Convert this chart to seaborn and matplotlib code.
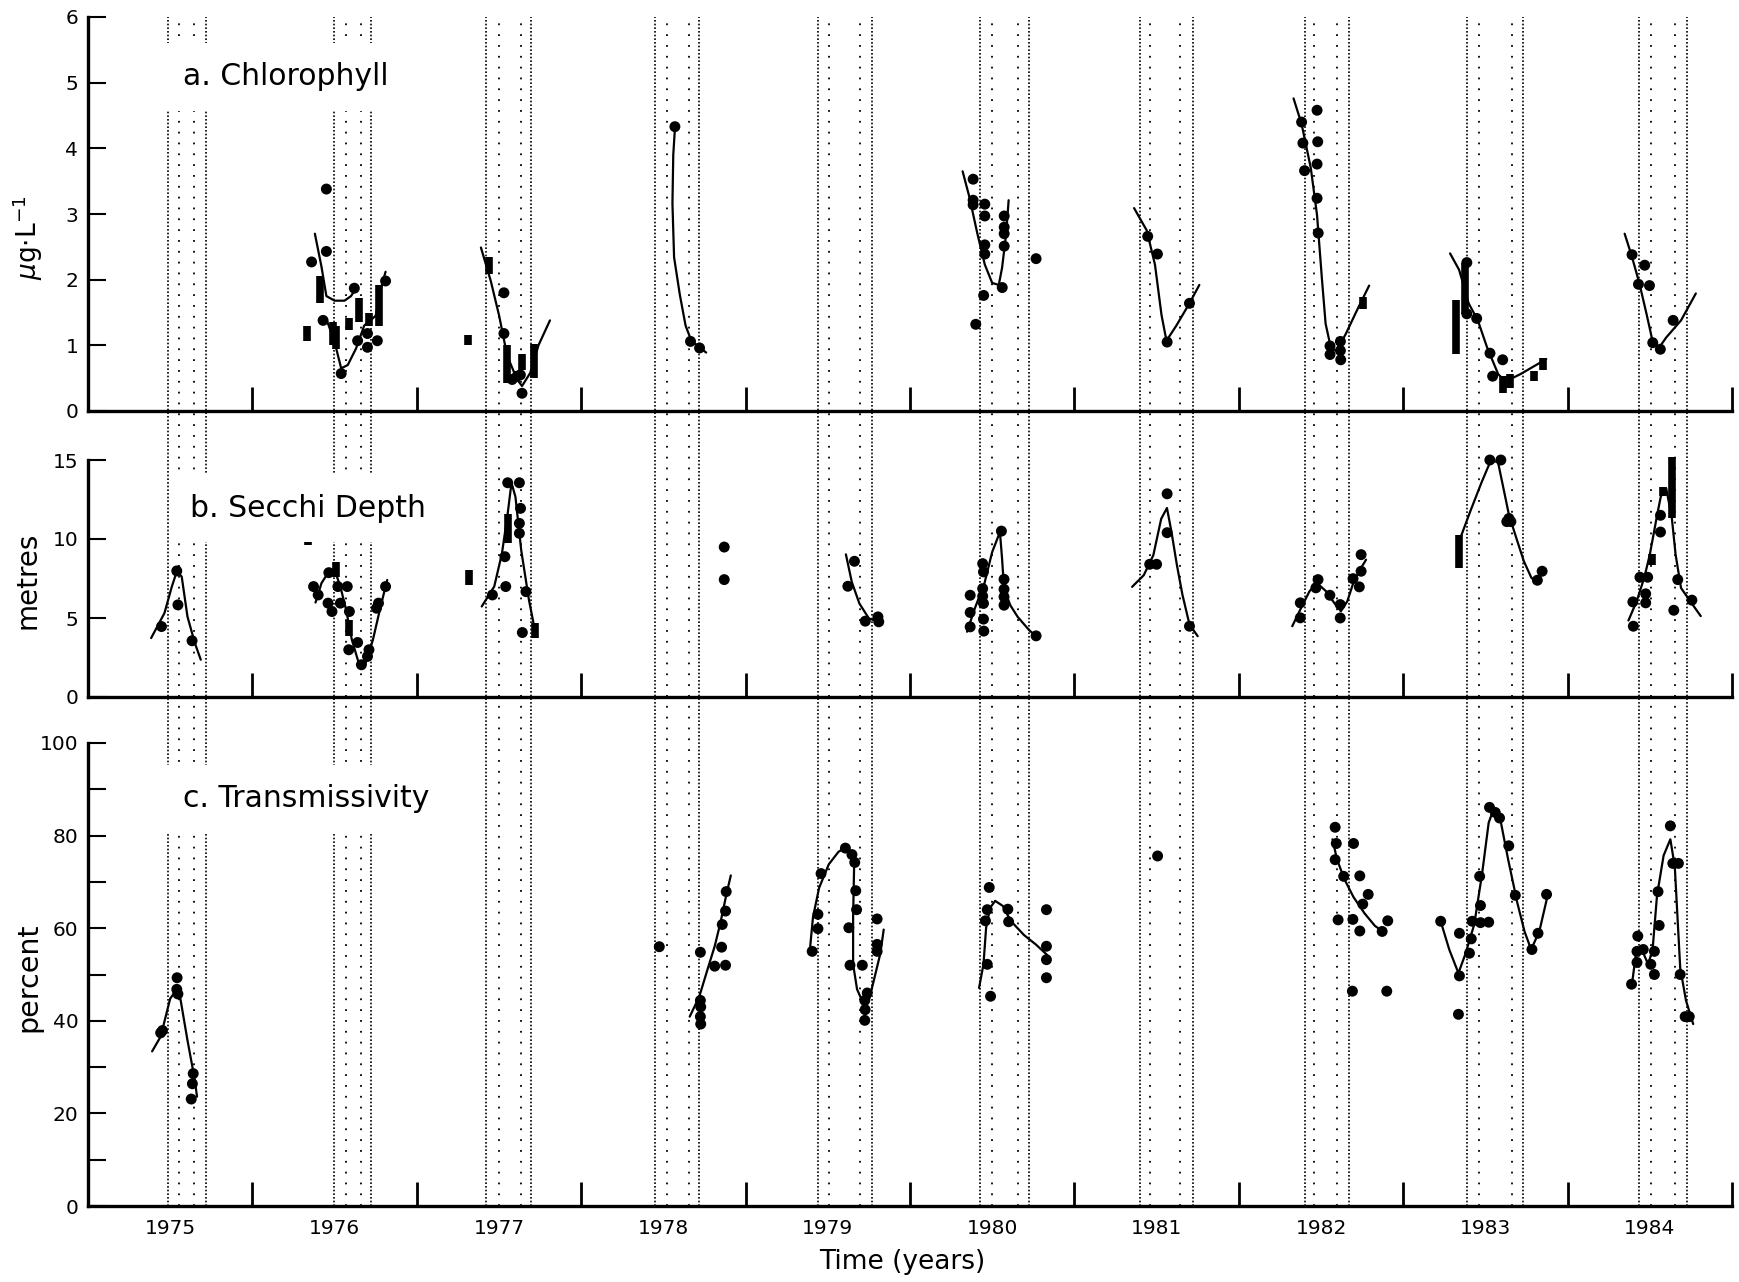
import numpy as np
import pandas as pd
import matplotlib
matplotlib.use("Agg")
import matplotlib.pyplot as plt
import seaborn as sns

sns.set_theme(style="white")
plt.rcParams['font.family'] = ['DejaVu Sans']
plt.rcParams['mathtext.fontset'] = 'dejavusans'
plt.rcParams['text.color'] = 'black'
plt.rcParams['axes.labelcolor'] = 'black'
plt.rcParams['xtick.color'] = 'black'
plt.rcParams['ytick.color'] = 'black'

# ---------------- data ----------------
year_labels = ["1975", "1976", "1977", "1978", "1979", "1980", "1981", "1982", "1983", "1984"]

# period boundaries (dotted verticals)
outer_start = [1975.487, 1976.494, 1977.420, 1978.450, 1979.441, 1980.425, 1981.400, 1982.404, 1983.389, 1984.437]
inner_start = [1975.553, 1976.569, 1977.499, 1978.520, 1979.507, 1980.498, 1981.460, 1982.456, 1983.461, 1984.508]
inner_end = [1975.645, 1976.663, 1977.635, 1978.653, 1979.696, 1980.656, 1981.645, 1982.596, 1983.664, 1984.656]
outer_end = [1975.720, 1976.721, 1977.693, 1978.717, 1979.771, 1980.726, 1981.719, 1982.668, 1983.727, 1984.728]

# a. Chlorophyll
chl_x = [1976.36, 1976.45, 1976.45, 1976.43, 1976.54, 1976.62, 1976.64, 1976.70, 1976.70, 1976.76, 1976.81,
         1977.53, 1977.53, 1977.61, 1977.64, 1977.58, 1977.63,
         1978.57, 1978.665, 1978.72,
         1980.384, 1980.384, 1980.384, 1980.455, 1980.455, 1980.573, 1980.573, 1980.573, 1980.455, 1980.455,
         1980.573, 1980.561, 1980.448, 1980.40, 1980.767,
         1981.446, 1981.505, 1981.564, 1981.70,
         1982.382, 1982.39, 1982.40, 1982.476, 1982.48, 1982.476, 1982.476, 1982.483, 1982.555, 1982.555,
         1982.618, 1982.618, 1982.62,
         1983.387, 1983.387, 1983.447, 1983.528, 1983.544, 1983.605,
         1984.392, 1984.469, 1984.431, 1984.498, 1984.518, 1984.564, 1984.642]
chl_y = [2.27, 3.38, 2.43, 1.38, 0.57, 1.87, 1.07, 0.97, 1.18, 1.07, 1.98,
         1.80, 1.18, 0.53, 0.27, 0.48, 0.55,
         4.33, 1.06, 0.96,
         3.53, 3.21, 3.14, 3.15, 2.97, 2.97, 2.80, 2.70, 2.53, 2.39,
         2.51, 1.88, 1.76, 1.32, 2.32,
         2.66, 2.39, 1.05, 1.64,
         4.40, 4.08, 3.66, 4.58, 4.10, 3.76, 3.24, 2.71, 0.99, 0.86,
         1.06, 0.92, 0.78,
         2.26, 1.48, 1.41, 0.88, 0.53, 0.78,
         2.38, 2.22, 1.93, 1.91, 1.04, 0.94, 1.38]
chl_bar_x = [1976.33, 1976.41, 1976.49, 1976.51, 1976.59, 1976.65, 1976.71, 1976.77,
             1977.31, 1977.44, 1977.55, 1977.64, 1977.71, 1982.753,
             1983.32, 1983.375, 1983.605, 1983.65, 1983.797, 1983.85]
chl_bar_lo = [1.07, 1.64, 1.00, 0.94, 1.23, 1.36, 1.30, 1.30,
              1.00, 2.08, 0.43, 0.63, 0.50, 1.56,
              0.87, 1.48, 0.27, 0.35, 0.45, 0.63]
chl_bar_hi = [1.30, 2.05, 1.36, 1.30, 1.41, 1.72, 1.50, 1.92,
              1.15, 2.34, 1.00, 0.87, 1.02, 1.74,
              1.69, 2.26, 0.53, 0.56, 0.61, 0.81]
chl_curves_x = [
    [1976.38, 1976.42, 1976.45, 1976.50, 1976.56, 1976.60, 1976.63],
    [1976.45, 1976.50, 1976.54, 1976.58, 1976.63, 1976.68, 1976.75, 1976.78, 1976.81],
    [1977.39, 1977.45, 1977.50, 1977.55, 1977.61, 1977.64, 1977.69, 1977.74, 1977.81],
    [1978.57, 1978.56, 1978.555, 1978.565, 1978.60, 1978.635, 1978.67, 1978.76],
    [1980.32, 1980.36, 1980.41, 1980.455, 1980.50, 1980.54, 1980.56, 1980.585, 1980.60],
    [1981.363, 1981.44, 1981.49, 1981.53, 1981.56, 1981.62, 1981.70, 1981.76],
    [1982.333, 1982.382, 1982.438, 1982.476, 1982.506, 1982.528, 1982.562, 1982.596, 1982.652, 1982.72, 1982.793],
    [1983.285, 1983.34, 1983.375, 1983.398, 1983.454, 1983.51, 1983.578, 1983.622, 1983.712, 1983.87],
    [1984.347, 1984.39, 1984.436, 1984.48, 1984.518, 1984.558, 1984.60, 1984.69, 1984.78]]
chl_curves_y = [
    [2.70, 2.20, 1.75, 1.68, 1.68, 1.75, 1.87],
    [1.40, 1.05, 0.65, 0.70, 0.95, 1.30, 1.45, 1.85, 2.12],
    [2.49, 1.98, 1.46, 0.84, 0.48, 0.38, 0.58, 1.00, 1.38],
    [4.30, 3.90, 3.16, 2.34, 1.77, 1.30, 1.07, 0.89],
    [3.65, 3.27, 2.70, 2.23, 1.95, 1.92, 2.18, 2.70, 3.21],
    [3.09, 2.75, 2.23, 1.46, 1.07, 1.30, 1.64, 1.92],
    [4.76, 4.37, 3.70, 2.98, 2.00, 1.33, 0.94, 0.92, 1.18, 1.54, 1.91],
    [2.40, 2.15, 1.85, 1.64, 1.38, 0.97, 0.56, 0.45, 0.56, 0.79],
    [2.70, 2.36, 1.95, 1.48, 1.05, 0.97, 1.12, 1.38, 1.79]]

# b. Secchi depth
sec_x = [1975.447, 1975.54, 1975.547, 1975.633,
         1976.372, 1976.40, 1976.46, 1976.484, 1976.465, 1976.52, 1976.577, 1976.535, 1976.59, 1976.586,
         1976.64, 1976.663, 1976.70, 1976.709, 1976.755, 1976.767, 1976.81,
         1977.46, 1977.536, 1977.541, 1977.553, 1977.624, 1977.631, 1977.624, 1977.624, 1977.664, 1977.642,
         1978.87, 1978.87,
         1979.662, 1979.622, 1979.728, 1979.805, 1979.81,
         1980.366, 1980.366, 1980.366, 1980.442, 1980.447, 1980.442, 1980.442, 1980.447, 1980.447, 1980.449,
         1980.556, 1980.572, 1980.572, 1980.572, 1980.572, 1980.767,
         1981.564, 1981.564, 1981.458, 1981.50, 1981.70,
         1982.374, 1982.374, 1982.482, 1982.469, 1982.554, 1982.617, 1982.617, 1982.695, 1982.744, 1982.744, 1982.733,
         1983.527, 1983.594, 1983.63, 1983.655, 1983.643, 1983.816, 1983.845,
         1984.397, 1984.40, 1984.44, 1984.487, 1984.475, 1984.475, 1984.565, 1984.565, 1984.67, 1984.646, 1984.756]
sec_y = [4.46, 7.98, 5.83, 3.56,
         6.99, 6.46, 5.94, 5.41, 7.87, 6.99, 6.99, 5.94, 5.41, 2.99,
         3.45, 2.04, 2.57, 2.99, 5.62, 5.94, 6.99,
         6.46, 8.88, 6.99, 13.56, 13.56, 11.94, 10.99, 10.36, 6.67, 4.08,
         9.49, 7.43,
         8.59, 7.01, 4.80, 5.07, 4.76,
         6.44, 5.35, 4.44, 8.44, 7.92, 6.86, 6.38, 5.92, 4.93, 4.17,
         10.50, 7.45, 6.82, 6.34, 5.81, 3.87,
         12.86, 10.40, 8.40, 8.40, 4.48,
         5.96, 5.01, 7.43, 6.91, 6.44, 5.85, 5.00, 7.49, 9.01, 7.96, 6.97,
         15.0, 15.0, 11.1, 11.1, 11.3, 7.39, 7.96,
         6.02, 4.48, 7.58, 7.58, 6.53, 5.96, 11.50, 10.44, 7.43, 5.49, 6.13]
sec_bar_x = [1976.337, 1976.51, 1976.585, 1977.318, 1977.553, 1977.718, 1983.34, 1984.513, 1984.58, 1984.634]
sec_bar_lo = [9.60, 7.60, 3.83, 7.10, 9.73, 3.73, 8.17, 8.34, 12.70, 11.33]
sec_bar_hi = [10.50, 8.57, 4.88, 8.04, 11.60, 4.67, 10.27, 9.07, 13.30, 15.22]
sec_curves_x = [
    [1975.384, 1975.465, 1975.51, 1975.54, 1975.57, 1975.605, 1975.65, 1975.686],
    [1976.384, 1976.42, 1976.465, 1976.50, 1976.535, 1976.57, 1976.605, 1976.65, 1976.686, 1976.733, 1976.78, 1976.82],
    [1977.395, 1977.471, 1977.518, 1977.553, 1977.576, 1977.60, 1977.635, 1977.682, 1977.718],
    [1979.61, 1979.646, 1979.692, 1979.75, 1979.81],
    [1980.347, 1980.394, 1980.453, 1980.50, 1980.547, 1980.56, 1980.572, 1980.61, 1980.655, 1980.725, 1980.77],
    [1981.351, 1981.422, 1981.48, 1981.528, 1981.563, 1981.59, 1981.623, 1981.657, 1981.70, 1981.75],
    [1982.325, 1982.379, 1982.43, 1982.475, 1982.531, 1982.58, 1982.621, 1982.66, 1982.70, 1982.744, 1982.774],
    [1983.34, 1983.408, 1983.475, 1983.53, 1983.576, 1983.61, 1983.643, 1983.69, 1983.734, 1983.78, 1983.81, 1983.857],
    [1984.37, 1984.42, 1984.466, 1984.50, 1984.545, 1984.567, 1984.60, 1984.634, 1984.657, 1984.69, 1984.746, 1984.81]]
sec_curves_y = [
    [3.73, 5.31, 6.99, 7.94, 7.62, 5.09, 3.41, 2.36],
    [5.98, 7.20, 7.94, 8.04, 6.99, 5.52, 3.62, 2.04, 2.04, 3.62, 5.73, 7.41],
    [5.73, 6.99, 9.09, 11.62, 13.56, 12.67, 9.30, 6.15, 4.25],
    [9.03, 7.28, 5.92, 4.97, 4.76],
    [4.13, 5.60, 7.20, 9.18, 10.44, 8.76, 6.86, 5.81, 5.07, 4.23, 3.81],
    [6.97, 7.71, 8.97, 11.28, 11.96, 10.48, 8.38, 6.48, 4.59, 3.85],
    [4.48, 5.64, 6.69, 7.22, 6.69, 5.96, 5.43, 6.06, 7.33, 8.17, 8.69],
    [9.85, 11.75, 13.54, 14.90, 14.90, 13.20, 11.54, 10.00, 8.59, 7.54, 7.33, 7.96],
    [4.84, 6.06, 7.54, 9.01, 11.54, 12.69, 13.20, 11.33, 9.01, 6.90, 6.06, 5.12]]

# c. Transmissivity
tr_x = [1975.442, 1975.453, 1975.542, 1975.54, 1975.547, 1975.64, 1975.635, 1975.628,
        1978.475, 1978.725, 1978.725, 1978.727, 1978.725, 1978.727, 1978.812, 1978.878, 1978.854, 1978.858, 1978.878, 1978.882,
        1979.459, 1979.44, 1979.44, 1979.405, 1979.607, 1979.647, 1979.664, 1979.67, 1979.675, 1979.628,
        1979.635, 1979.71, 1979.74, 1979.725, 1979.727, 1979.725, 1979.80, 1979.80, 1979.80,
        1980.482, 1980.47, 1980.459, 1980.47, 1980.49, 1980.595, 1980.60, 1980.83, 1980.83, 1980.83, 1980.83,
        1981.506,
        1982.586, 1982.593, 1982.586, 1982.638, 1982.604, 1982.698, 1982.736, 1982.787, 1982.754, 1982.694,
        1982.736, 1982.872, 1982.906, 1982.691, 1982.90,
        1983.228, 1983.342, 1983.342, 1983.336, 1983.403, 1983.414, 1983.42, 1983.47, 1983.52, 1983.47,
        1983.465, 1983.525, 1983.56, 1983.586, 1983.642, 1983.682, 1983.783, 1983.82, 1983.872,
        1984.389, 1984.427, 1984.422, 1984.422, 1984.46, 1984.506, 1984.528, 1984.528, 1984.55, 1984.557,
        1984.625, 1984.64, 1984.674, 1984.685, 1984.715, 1984.74]
tr_y = [37.4, 37.9, 49.3, 46.8, 45.8, 28.6, 26.4, 23.1,
        56.0, 54.8, 44.4, 43.0, 40.9, 39.3, 51.8, 52.0, 55.9, 60.8, 63.7, 67.9,
        71.8, 63.0, 59.9, 55.0, 77.3, 75.9, 74.2, 68.1, 64.0, 60.1,
        52.0, 52.0, 46.0, 44.4, 42.4, 40.1, 62.0, 56.5, 55.0,
        68.8, 64.0, 61.6, 52.2, 45.3, 64.1, 61.4, 64.0, 56.1, 53.2, 49.3,
        75.6,
        81.8, 78.3, 74.8, 71.2, 61.8, 78.3, 71.3, 67.3, 65.2, 61.9,
        59.4, 59.3, 61.6, 46.4, 46.4,
        61.5, 58.9, 49.7, 41.4, 54.6, 57.7, 61.5, 61.2, 61.3, 64.9,
        71.2, 86.1, 85.0, 83.8, 77.8, 67.1, 55.4, 58.9, 67.3,
        47.9, 58.3, 55.0, 52.6, 55.4, 52.2, 50.0, 55.0, 67.9, 60.6,
        82.1, 74.0, 74.0, 50.0, 40.9, 40.9]
tr_curves_x = [
    [1975.39, 1975.442, 1975.50, 1975.54, 1975.558, 1975.605, 1975.65, 1975.663],
    [1978.66, 1978.718, 1978.765, 1978.812, 1978.847, 1978.882, 1978.91],
    [1979.393, 1979.41, 1979.447, 1979.506, 1979.565, 1979.607, 1979.647, 1979.66, 1979.654, 1979.654,
     1979.678, 1979.718, 1979.753, 1979.788, 1979.82, 1979.84],
    [1980.42, 1980.447, 1980.463, 1980.487, 1980.518, 1980.565, 1980.612, 1980.694, 1980.765, 1980.835],
    [1982.57, 1982.597, 1982.642, 1982.698, 1982.765, 1982.828, 1982.877],
    [1983.228, 1983.28, 1983.336, 1983.38, 1983.432, 1983.48, 1983.52, 1983.548, 1983.593, 1983.638,
     1983.694, 1983.738, 1983.778, 1983.828, 1983.884],
    [1984.393, 1984.416, 1984.45, 1984.49, 1984.517, 1984.544, 1984.584, 1984.625, 1984.652, 1984.685,
     1984.72, 1984.764]]
tr_curves_y = [
    [33.4, 36.6, 44.8, 46.8, 45.6, 35.8, 27.2, 23.6],
    [40.9, 45.2, 50.7, 56.1, 61.2, 67.1, 71.4],
    [56.1, 62.4, 68.7, 73.8, 76.5, 77.4, 76.1, 73.3, 62.4, 52.2,
     46.8, 43.6, 44.8, 49.9, 54.6, 59.7],
    [47.1, 52.2, 60.1, 64.4, 65.9, 64.8, 61.6, 58.5, 56.5, 54.2],
    [79.2, 74.9, 70.6, 66.7, 63.2, 60.5, 59.3],
    [61.5, 55.4, 50.3, 54.6, 60.8, 71.8, 82.8, 85.5, 83.1, 74.9,
     65.5, 59.3, 55.4, 59.3, 67.9],
    [48.3, 54.6, 55.5, 52.2, 55.4, 67.1, 75.7, 79.2, 73.3, 51.4,
     44.4, 39.3]]

# ---------------- figure ----------------
W, H = 1740, 1282
X0, X1 = 88, 1732
fig = plt.figure(figsize=(W / 100, H / 100), dpi=100)


def box(top, bottom):
    return [X0 / W, 1 - bottom / H, (X1 - X0) / W, (bottom - top) / H]


# background axes holding the dotted period lines across all panels
bg = fig.add_axes(box(17, 1206))
bg.set_xlim(1975, 1985)
bg.set_ylim(0, 1)
bg.axis('off')
bg.set_zorder(0)
for xv in outer_start + outer_end:
    bg.axvline(xv, color='black', lw=1.2, ls=(0, (1, 1.2)))
for xv in inner_start + inner_end:
    bg.axvline(xv, color='black', lw=1.3, ls=(0, (1, 5)))

axa = fig.add_axes(box(17, 411))
axb = fig.add_axes(box(460, 697))
axc = fig.add_axes(box(743, 1206))


def curves_df(cx, cy):
    rows = []
    for i, (xs, ys) in enumerate(zip(cx, cy)):
        for xv, yv in zip(xs, ys):
            rows.append((i, xv, yv))
    return pd.DataFrame(rows, columns=['seg', 'x', 'y'])


panels = [
    (axa, chl_x, chl_y, chl_bar_x, chl_bar_lo, chl_bar_hi, chl_curves_x, chl_curves_y),
    (axb, sec_x, sec_y, sec_bar_x, sec_bar_lo, sec_bar_hi, sec_curves_x, sec_curves_y),
    (axc, tr_x, tr_y, None, None, None, tr_curves_x, tr_curves_y),
]

for ax, px, py, bx, blo, bhi, cx, cy in panels:
    ax.set_facecolor('none')
    ax.set_zorder(2)
    dfc = curves_df(cx, cy)
    sns.lineplot(data=dfc, x='x', y='y', units='seg', estimator=None, sort=False,
                 color='black', lw=1.6, ax=ax, legend=False)
    sns.scatterplot(x=px, y=py, ax=ax, color='black', s=62, edgecolor='none',
                    linewidth=0, legend=False, zorder=3, clip_on=False)
    if bx is not None:
        ax.vlines(bx, blo, bhi, color='black', lw=5.5, zorder=3, clip_on=False)
    ax.set_xlim(1975, 1985)
    ax.set_xlabel('')
    ax.set_ylabel('')
    for s in ['top', 'right']:
        ax.spines[s].set_visible(False)
    for s in ['left', 'bottom']:
        ax.spines[s].set_color('black')
        ax.spines[s].set_linewidth(2.4)
    ax.set_xticks(range(1975, 1986))
    ax.set_xticks(np.arange(1975.5, 1985, 1.0), minor=True)
    ax.tick_params(axis='x', which='major', direction='in', length=17, width=2,
                   color='black', labelbottom=False, bottom=True)
    ax.tick_params(axis='x', which='minor', length=0, labelsize=14.5, pad=9,
                   labelcolor='black', bottom=True)
    ax.tick_params(axis='y', which='both', direction='in', length=13, width=1.5,
                   color='black', labelsize=14.5, pad=7, labelcolor='black', left=True)

axa.set_ylim(0, 6)
axa.set_yticks(range(0, 7))
axb.set_ylim(0, 15)
axb.set_yticks([0, 5, 10, 15])
axc.set_ylim(0, 100)
axc.set_yticks(range(0, 101, 20))
axc.set_yticks(range(10, 100, 20), minor=True)

axa.set_xticklabels([], minor=True)
axb.set_xticklabels([], minor=True)
axc.set_xticklabels(year_labels, minor=True)

tbox = dict(boxstyle='square,pad=0.65', facecolor='white', edgecolor='none')
axa.text(1975.58, 5.09, 'a. Chlorophyll', fontsize=21.5, color='black', ha='left', va='center', bbox=tbox, zorder=5)
axb.text(1975.62, 11.95, 'b. Secchi Depth', fontsize=21.5, color='black', ha='left', va='center', bbox=tbox, zorder=5)
axc.text(1975.58, 88.0, 'c. Transmissivity', fontsize=21.5, color='black', ha='left', va='center', bbox=tbox, zorder=5)

fig.text(28 / W, 1 - 238 / H, r'$\mu$g$\cdot$L$^{-1}$', rotation=90, ha='center', va='center', fontsize=19, color='black')
fig.text(28 / W, 1 - 580 / H, 'metres', rotation=90, ha='center', va='center', fontsize=20, color='black')
fig.text(28 / W, 1 - 977 / H, 'percent', rotation=90, ha='center', va='center', fontsize=20.5, color='black')
fig.text(902 / W, 1 - 1262 / H, 'Time (years)', ha='center', va='center', fontsize=19, color='black')

fig.savefig('out.png', dpi=100, facecolor='white')
